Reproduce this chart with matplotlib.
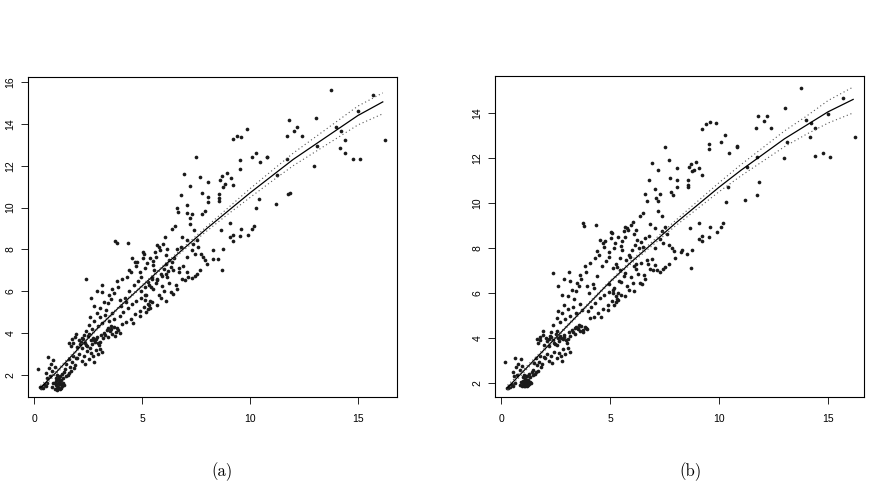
import numpy as np
import matplotlib
matplotlib.use('Agg')
import matplotlib.pyplot as plt

plt.rcParams['font.family'] = ['Liberation Sans', 'DejaVu Sans']

# observed x (shared by both panels)
x_obs = [0.28, 0.32, 0.35, 0.40, 0.45, 0.50, 0.55, 0.62,
         0.19, 0.65, 0.55, 0.70, 0.80, 0.75, 0.60, 0.85, 0.90, 0.95,
         0.85, 0.90, 0.95, 1.00, 1.02, 1.05, 1.08, 1.10, 1.12, 1.15,
         1.18, 1.20, 1.22, 1.25, 1.28, 1.30, 1.32, 1.35, 1.38, 1.40,
         1.00, 1.05, 1.10, 1.15, 1.20, 1.25, 1.30, 0.98, 1.08, 1.18,
         1.45, 1.50, 1.55, 1.60, 1.65, 1.70, 1.75, 1.80, 1.85, 1.90, 1.95, 1.48, 1.62,
         1.63, 1.78, 1.69, 1.92, 1.81, 2.07, 1.98, 2.23, 2.12, 2.31,
         2.18, 2.42, 2.27, 2.51, 2.38, 2.62, 2.47, 2.71, 2.56, 2.83,
         2.68, 2.91, 2.77, 3.02, 2.88, 3.11, 2.97, 3.18, 3.06, 2.21, 2.58, 1.94,
         2.00, 2.10, 2.20, 2.30, 2.45, 2.55, 2.65, 2.75, 2.85, 2.95, 3.05, 3.15, 2.35, 2.80,
         3.24, 3.37, 3.29, 3.52, 3.43, 3.61, 3.55, 3.78, 3.69, 3.91, 3.83, 3.41, 3.74, 3.96, 3.58,
         2.40, 2.55, 2.70, 2.80, 2.95, 3.05, 3.15, 3.30, 3.45, 3.60, 3.70, 2.60, 2.90,
         2.40, 2.78, 2.63, 3.07, 2.91, 3.26, 3.14, 3.47, 3.33, 3.61, 3.42,
         3.84, 3.69, 4.02, 3.88, 4.21, 4.09, 4.38, 4.27, 3.17, 3.57, 3.96,
         3.75, 3.82, 4.35,
         4.07, 3.98, 4.26, 4.14, 4.47, 4.33, 4.68, 4.52, 4.89, 4.71,
         5.09, 4.94, 5.31, 5.12, 5.48, 5.27, 4.60, 4.90, 5.20,
         4.62, 4.48, 4.83, 4.71, 4.97, 4.78, 5.12, 4.93, 5.03, 5.28,
         5.16, 5.08, 5.44, 5.22, 5.33, 5.57, 5.38, 5.71, 5.49, 5.62,
         5.86, 5.53, 5.77, 6.02, 5.67, 5.91, 6.13, 5.83, 6.24, 5.98,
         6.33, 6.09, 6.18, 6.41, 5.06, 5.68, 6.06, 6.37, 6.53, 6.68,
         6.84, 4.68, 4.40, 4.30, 4.55,
         5.13, 4.96, 5.27, 5.41, 5.18, 5.63, 5.36, 5.52, 5.88, 5.69,
         6.03, 5.79, 6.17, 5.94, 6.36, 6.11, 6.27, 6.61, 6.44, 6.83,
         6.58, 6.72, 6.98, 5.35, 5.70, 6.10, 6.45, 5.45, 6.20, 6.70,
         6.79, 7.07, 7.38, 7.53, 7.60, 7.30, 7.45, 7.72, 7.84, 7.92, 7.07, 6.50, 6.60, 7.40, 7.20,
         6.91, 7.07, 7.14, 7.30, 7.45, 7.53, 8.00, 8.27, 8.53, 7.70, 8.70,
         6.94, 7.50, 7.69, 8.07, 8.60, 8.70, 8.85, 8.95, 9.10, 8.75,
         9.20, 7.22, 7.76, 8.06, 8.06, 8.57, 8.57, 8.57, 7.08, 7.90,
         7.10, 7.30, 7.20, 7.80, 9.54, 9.54, 10.08, 10.28, 10.80, 10.46,
         9.20, 9.40, 9.60, 6.60, 6.80, 9.86,
         9.07, 8.65, 9.60, 9.20, 9.54, 9.90, 9.07, 8.74, 9.20, 8.30, 10.20, 10.10, 10.30, 10.40,
         13.75, 11.80, 13.04, 12.05, 12.20, 11.70, 12.40, 10.80, 11.73, 11.26,
         12.98, 13.10, 14.00, 14.20, 14.40, 14.15, 14.40, 14.75, 15.10, 15.00,
         15.70, 16.25, 11.85, 11.75, 11.20]

y_a = [1.42, 1.40, 1.45, 1.38, 1.50, 1.55, 1.47, 1.60,
       2.30, 2.86, 2.10, 2.35, 2.55, 1.95, 1.85, 2.20, 2.70, 2.40,
       1.45, 1.60, 1.35, 1.50, 1.70, 1.40, 1.55, 1.80, 1.45, 1.65,
       1.35, 1.95, 1.58, 1.75, 1.48, 2.05, 1.62, 1.85, 1.52, 2.15,
       1.85, 2.00, 1.38, 1.90, 1.72, 1.40, 1.55, 1.62, 1.30, 1.55,
       2.30, 2.55, 2.00, 2.75, 2.40, 2.20, 2.60, 2.90, 2.35, 2.50, 2.80, 1.95, 2.10,
       3.55, 3.70, 3.40, 3.80, 3.55, 3.65, 3.35, 3.75, 3.50, 3.90,
       3.60, 3.45, 3.70, 3.85, 3.55, 3.65, 3.40, 3.75, 3.95, 3.60,
       3.50, 3.80, 3.65, 3.45, 3.70, 3.90, 3.55, 3.75, 3.60, 3.30, 3.30, 3.95,
       2.80, 3.00, 2.65, 2.90, 3.15, 2.75, 3.05, 2.90, 3.20, 3.00, 3.25, 3.10, 2.55, 2.60,
       4.00, 4.15, 3.90, 4.10, 4.25, 3.95, 4.20, 4.05, 4.30, 4.15, 4.25, 3.80, 3.85, 4.00, 4.35,
       4.10, 4.40, 4.20, 4.60, 4.35, 4.75, 4.50, 4.85, 4.60, 4.95, 4.70, 4.75, 4.95,
       6.57, 5.30, 5.70, 5.20, 6.00, 5.50, 6.30, 5.80, 5.10, 6.10, 5.45,
       6.50, 5.90, 5.30, 6.20, 5.70, 6.60, 6.00, 5.50, 5.95, 5.65, 5.60,
       8.40, 8.30, 8.30,
       4.45, 4.80, 4.55, 5.00, 4.70, 5.20, 4.90, 5.40, 5.05, 5.55,
       5.25, 5.70, 5.35, 5.80, 5.50, 5.15, 4.50, 4.80, 5.00,
       6.30, 6.90, 6.50, 7.20, 6.70, 7.40, 6.20, 6.90, 7.60, 6.45,
       7.10, 7.80, 6.70, 7.35, 6.30, 7.00, 7.60, 6.60, 7.25, 7.90,
       6.85, 7.45, 8.10, 7.05, 7.65, 6.75, 7.30, 7.95, 7.50, 8.25,
       7.15, 7.75, 8.00, 7.40, 7.87, 8.19, 8.59, 8.98, 9.14, 9.78,
       8.59, 7.40, 7.00, 6.70, 7.60,
       5.60, 6.00, 5.40, 6.20, 5.80, 6.40, 5.55, 6.10, 5.70, 6.55,
       6.00, 5.80, 6.70, 6.25, 5.95, 6.85, 6.40, 6.10, 7.00, 6.60,
       6.30, 6.90, 6.55, 5.20, 5.35, 5.55, 5.85, 6.60, 6.95, 7.10,
       8.11, 8.43, 8.27, 8.43, 8.14, 7.95, 7.79, 7.76, 7.63, 7.48, 7.63, 7.60, 8.00, 8.95, 9.20,
       7.19, 6.92, 6.68, 6.65, 6.71, 6.81, 7.29, 7.56, 7.56, 7.00, 7.03,
       11.60, 12.40, 11.44, 11.20, 11.30, 11.50, 11.15, 11.65, 11.40, 11.00,
       11.10, 11.05, 10.70, 10.50, 10.27, 10.67, 10.45, 10.30, 10.14, 9.86,
       9.75, 9.70, 9.50, 9.67, 12.29, 11.84, 12.44, 12.63, 12.43, 12.16,
       13.30, 13.40, 13.35, 10.00, 10.60, 13.76,
       9.25, 8.95, 9.00, 8.70, 8.62, 8.70, 8.60, 8.03, 8.40, 7.95, 9.14, 9.00, 10.00, 10.40,
       15.60, 14.20, 14.30, 13.65, 13.84, 13.40, 13.40, 12.40, 12.30, 11.54,
       12.00, 12.93, 13.84, 13.65, 13.22, 12.86, 12.62, 12.30, 12.30, 14.60,
       15.40, 13.25, 10.70, 10.67, 10.16]

y_b = [1.80, 1.78, 1.85, 1.82, 1.90, 1.95, 1.88, 2.00,
       2.95, 3.10, 2.50, 2.70, 2.85, 2.35, 2.30, 2.60, 3.05, 2.75,
       1.90, 2.05, 1.85, 1.95, 2.10, 1.88, 2.00, 2.20, 1.92, 2.08,
       1.86, 2.30, 2.02, 2.15, 1.96, 2.40, 2.05, 2.25, 1.98, 2.50,
       2.25, 2.35, 1.90, 2.30, 2.12, 1.90, 2.00, 2.04, 1.85, 2.00,
       2.60, 2.90, 2.40, 3.10, 2.80, 2.55, 2.95, 3.20, 2.70, 2.85, 3.15, 2.35, 2.50,
       3.95, 4.05, 3.80, 4.15, 3.90, 4.00, 3.70, 4.10, 3.85, 4.25,
       3.95, 3.80, 4.05, 4.20, 3.90, 4.00, 3.75, 4.10, 4.30, 3.95,
       3.85, 4.15, 4.00, 3.80, 4.05, 4.25, 3.90, 4.10, 3.95, 3.65, 3.70, 4.30,
       3.10, 3.30, 3.00, 3.20, 3.40, 3.10, 3.35, 3.20, 3.50, 3.30, 3.55, 3.40, 2.90, 3.00,
       4.35, 4.45, 4.25, 4.40, 4.50, 4.30, 4.45, 4.35, 4.55, 4.45, 4.50, 4.20, 4.25, 4.40, 4.60,
       4.60, 4.90, 4.70, 5.10, 4.85, 5.30, 5.00, 5.40, 5.10, 5.50, 5.25, 5.20, 5.45,
       6.90, 5.90, 6.30, 5.85, 6.60, 6.15, 6.95, 6.45, 5.75, 6.80, 6.10,
       7.20, 6.60, 6.00, 6.95, 6.40, 7.35, 6.75, 6.20, 6.55, 6.30, 6.30,
       9.10, 8.98, 9.00,
       4.90, 5.20, 4.95, 5.40, 5.10, 5.55, 5.30, 5.80, 5.45, 5.90,
       5.65, 6.05, 5.75, 6.15, 5.90, 5.60, 4.95, 5.25, 5.45,
       7.20, 7.70, 7.40, 8.05, 7.60, 8.30, 7.10, 7.80, 8.45, 7.30,
       8.00, 8.65, 7.55, 8.20, 7.15, 7.90, 8.50, 7.45, 8.10, 8.75,
       7.70, 8.30, 8.90, 7.90, 8.50, 7.60, 8.15, 8.80, 8.35, 9.00,
       8.00, 8.60, 8.80, 8.25, 8.70, 8.95, 9.15, 9.40, 9.55, 10.10,
       9.05, 8.20, 7.85, 7.55, 8.35,
       6.00, 6.40, 5.85, 6.55, 6.20, 6.75, 6.00, 6.50, 6.15, 6.90,
       6.45, 6.30, 7.05, 6.70, 6.45, 7.20, 6.85, 6.60, 7.35, 7.05,
       6.80, 7.30, 7.00, 5.70, 5.85, 6.10, 6.40, 7.00, 7.30, 7.45,
       8.55, 8.90, 8.75, 8.95, 8.60, 8.40, 8.20, 8.15, 8.00, 7.85, 8.00, 8.05, 8.45, 9.40, 9.65,
       7.50, 7.25, 7.00, 6.95, 7.05, 7.15, 7.55, 7.80, 7.75, 7.30, 7.10,
       11.76, 12.50, 11.90, 11.55, 11.60, 11.75, 11.45, 11.80, 11.55, 11.40,
       11.25, 11.45, 11.10, 11.00, 10.70, 11.00, 10.80, 10.70, 10.60, 10.35,
       10.20, 10.40, 10.10, 10.50, 12.60, 12.40, 12.70, 13.00, 12.50, 12.20,
       13.30, 13.50, 13.60, 10.40, 11.00, 13.55,
       9.10, 8.90, 8.95, 8.55, 8.50, 8.70, 8.40, 7.90, 8.30, 7.90, 9.10, 8.95, 10.06, 10.70,
       15.10, 13.85, 14.24, 13.64, 13.85, 13.35, 13.35, 12.53, 12.06, 11.60,
       12.00, 12.72, 13.67, 13.54, 13.32, 12.95, 12.09, 12.21, 12.06, 13.94,
       14.65, 12.93, 10.93, 10.36, 10.13]

# fitted curves and pointwise bands
fit_x = [0.3, 1, 2, 3, 4, 5, 6, 7, 8, 9, 10, 11, 12, 13, 14, 15, 16.15]
fit_a = [1.40, 2.10, 3.20, 4.30, 5.30, 6.25, 7.20, 8.10, 9.00, 9.85, 10.70, 11.50, 12.30, 13.00, 13.70, 14.40, 15.05]
hi_a = [1.50, 2.18, 3.26, 4.35, 5.35, 6.30, 7.26, 8.18, 9.10, 10.00, 10.90, 11.75, 12.60, 13.35, 14.10, 14.85, 15.48]
lo_a = [1.30, 2.02, 3.14, 4.25, 5.25, 6.20, 7.14, 8.02, 8.88, 9.70, 10.48, 11.25, 12.00, 12.65, 13.30, 13.95, 14.48]
fit_b = [1.80, 2.50, 3.50, 4.50, 5.50, 6.50, 7.40, 8.25, 9.10, 9.90, 10.70, 11.45, 12.15, 12.85, 13.45, 14.05, 14.60]
hi_b = [1.90, 2.58, 3.56, 4.55, 5.55, 6.55, 7.47, 8.34, 9.22, 10.06, 10.90, 11.70, 12.45, 13.20, 13.85, 14.55, 15.15]
lo_b = [1.70, 2.42, 3.44, 4.45, 5.45, 6.45, 7.33, 8.16, 8.98, 9.74, 10.50, 11.20, 11.85, 12.50, 13.05, 13.55, 14.00]


def panel(ax, y, fy, lo, hi, xlim, ylim, yticks):
    ax.scatter(x_obs, y, s=7, c='#1a1a1a', linewidths=0, zorder=2)
    ax.plot(fit_x, fy, color='black', lw=0.9, zorder=3)
    ax.plot(fit_x, hi, color='#555555', lw=0.8, ls=(0, (1, 2.5)), zorder=3)
    ax.plot(fit_x, lo, color='#555555', lw=0.8, ls=(0, (1, 2.5)), zorder=3)
    ax.set_xlim(*xlim)
    ax.set_ylim(*ylim)
    ax.set_xticks([0, 5, 10, 15])
    ax.set_yticks(yticks)
    ax.tick_params(direction='out', length=5, width=0.6, labelsize=7.5)
    ax.tick_params(axis='x', pad=7)
    ax.tick_params(axis='y', pad=4, labelrotation=90)
    for lab in ax.get_yticklabels():
        lab.set_va('center')
    for s in ax.spines.values():
        s.set_linewidth(0.8)


fig = plt.figure(figsize=(8.72, 4.9), dpi=100)
ax1 = fig.add_axes([0.0321, 0.1898, 0.4232, 0.6531])
ax2 = fig.add_axes([0.5677, 0.1898, 0.4232, 0.6551])

panel(ax1, y_a, fit_a, lo_a, hi_a, (-0.28, 16.81), (0.95, 16.24), [2, 4, 6, 8, 10, 12, 14, 16])
panel(ax2, y_b, fit_b, lo_b, hi_b, (-0.275, 16.65), (1.38, 15.64), [2, 4, 6, 8, 10, 12, 14])

fig.text(0.2546, 0.037, '(a)', family='cmr10', fontsize=12, ha='center', va='center')
fig.text(0.7913, 0.037, '(b)', family='cmr10', fontsize=12, ha='center', va='center')

fig.savefig('out.png', dpi=100)
